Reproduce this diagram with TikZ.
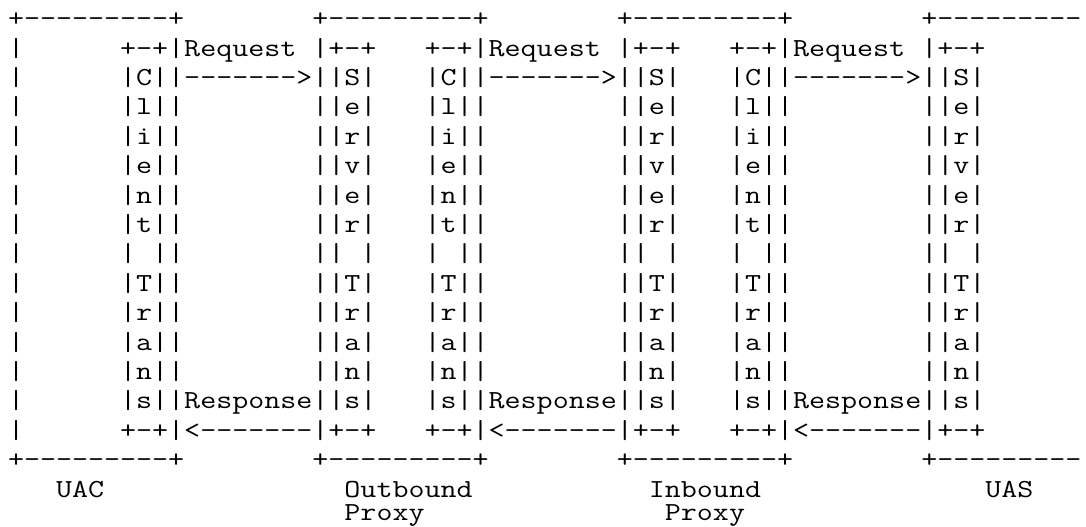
\documentclass[tikz,border=0pt]{standalone}
\usepackage{graphicx}
\newcommand{\asciigap}[1]{\hspace*{#1\fontcharwd\font`\+}}
\newcommand{\stretchrow}[1]{\scalebox{1.1966}[1]{#1}}
\begin{document}
\begin{tikzpicture}[x=8pt,y=-14.7pt,
    textrow/.style={anchor=base west,inner sep=0pt,outer sep=0pt,
      font=\ttfamily\fontsize{13}{13}\selectfont}]
  \useasboundingbox (-0.5,-0.905) rectangle (67.375,17.02);
  \clip (-0.5,-0.905) rectangle (67.375,17.02);
  \fill[white] (-0.5,-0.905) rectangle (67.375,17.02);
  % boxes, transactions and messages, one node per text row
  \node[textrow] (r0) at (0,0) {\stretchrow{+---------+\asciigap{8}+---------+\asciigap{8}+---------+\asciigap{8}+---------}};
  \node[textrow] (r1) at (0,1) {\stretchrow{|\asciigap{6}+-+|Request\asciigap{1}|+-+\asciigap{3}+-+|Request\asciigap{1}|+-+\asciigap{3}+-+|Request\asciigap{1}|+-+}};
  \node[textrow] (r2) at (0,2) {\stretchrow{|\asciigap{6}|C||------->||S|\asciigap{3}|C||------->||S|\asciigap{3}|C||------->||S|}};
  \node[textrow] (r3) at (0,3) {\stretchrow{|\asciigap{6}|l||\asciigap{8}||e|\asciigap{3}|l||\asciigap{8}||e|\asciigap{3}|l||\asciigap{8}||e|}};
  \node[textrow] (r4) at (0,4) {\stretchrow{|\asciigap{6}|i||\asciigap{8}||r|\asciigap{3}|i||\asciigap{8}||r|\asciigap{3}|i||\asciigap{8}||r|}};
  \node[textrow] (r5) at (0,5) {\stretchrow{|\asciigap{6}|e||\asciigap{8}||v|\asciigap{3}|e||\asciigap{8}||v|\asciigap{3}|e||\asciigap{8}||v|}};
  \node[textrow] (r6) at (0,6) {\stretchrow{|\asciigap{6}|n||\asciigap{8}||e|\asciigap{3}|n||\asciigap{8}||e|\asciigap{3}|n||\asciigap{8}||e|}};
  \node[textrow] (r7) at (0,7) {\stretchrow{|\asciigap{6}|t||\asciigap{8}||r|\asciigap{3}|t||\asciigap{8}||r|\asciigap{3}|t||\asciigap{8}||r|}};
  \node[textrow] (r8) at (0,8) {\stretchrow{|\asciigap{6}|\asciigap{1}||\asciigap{8}||\asciigap{1}|\asciigap{3}|\asciigap{1}||\asciigap{8}||\asciigap{1}|\asciigap{3}|\asciigap{1}||\asciigap{8}||\asciigap{1}|}};
  \node[textrow] (r9) at (0,9) {\stretchrow{|\asciigap{6}|T||\asciigap{8}||T|\asciigap{3}|T||\asciigap{8}||T|\asciigap{3}|T||\asciigap{8}||T|}};
  \node[textrow] (r10) at (0,10) {\stretchrow{|\asciigap{6}|r||\asciigap{8}||r|\asciigap{3}|r||\asciigap{8}||r|\asciigap{3}|r||\asciigap{8}||r|}};
  \node[textrow] (r11) at (0,11) {\stretchrow{|\asciigap{6}|a||\asciigap{8}||a|\asciigap{3}|a||\asciigap{8}||a|\asciigap{3}|a||\asciigap{8}||a|}};
  \node[textrow] (r12) at (0,12) {\stretchrow{|\asciigap{6}|n||\asciigap{8}||n|\asciigap{3}|n||\asciigap{8}||n|\asciigap{3}|n||\asciigap{8}||n|}};
  \node[textrow] (r13) at (0,13) {\stretchrow{|\asciigap{6}|s||Response||s|\asciigap{3}|s||Response||s|\asciigap{3}|s||Response||s|}};
  \node[textrow] (r14) at (0,14) {\stretchrow{|\asciigap{6}+-+|<-------|+-+\asciigap{3}+-+|<-------|+-+\asciigap{3}+-+|<-------|+-+}};
  \node[textrow] (r15) at (0,15) {\stretchrow{+---------+\asciigap{8}+---------+\asciigap{8}+---------+\asciigap{8}+---------}};
  % element names
  \node[textrow] (r16) at (0,16) {\stretchrow{\asciigap{3}UAC\asciigap{15}Outbound\asciigap{11}Inbound\asciigap{14}UAS}};
  \node[textrow] (r17) at (0,16.8) {\stretchrow{\asciigap{21}Proxy\asciigap{15}Proxy}};
\end{tikzpicture}
\end{document}
